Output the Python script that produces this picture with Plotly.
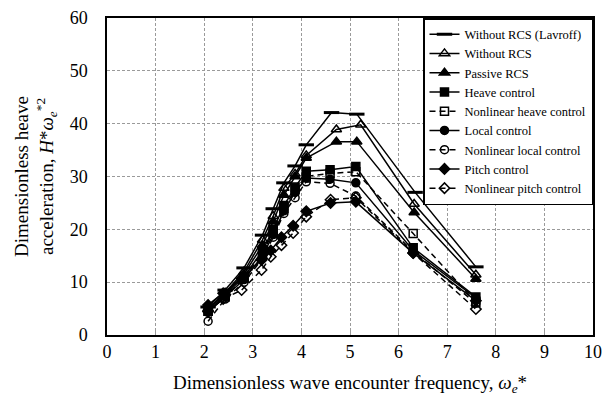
import plotly.graph_objects as go

# ---- data ----
names = ["Without RCS (Lavroff)", "Without RCS", "Passive RCS", "Heave control",
         "Nonlinear heave control", "Local control", "Nonlinear local control",
         "Pitch control", "Nonlinear pitch control"]

x_lavroff = [2.08, 2.43, 2.82, 3.20, 3.42, 3.64, 3.87, 4.10, 4.62, 5.14, 6.34, 7.59]
y_lavroff = [5.3, 8.5, 12.7, 18.9, 23.9, 28.8, 32.0, 36.0, 42.1, 41.8, 27.0, 12.9]

x_norcs = [2.08, 2.43, 2.82, 3.20, 3.42, 3.64, 3.87, 4.10, 4.72, 5.22, 6.32, 7.59]
y_norcs = [5.0, 8.0, 12.0, 18.0, 22.5, 27.8, 30.5, 34.0, 38.9, 39.8, 24.8, 11.4]

x_passive = [2.08, 2.43, 2.82, 3.20, 3.42, 3.64, 3.87, 4.10, 4.72, 5.14, 6.32, 7.59]
y_passive = [4.8, 7.8, 11.5, 17.0, 21.5, 26.5, 30.0, 33.5, 36.6, 36.6, 23.2, 10.6]

x_heave = [2.08, 2.43, 2.82, 3.20, 3.42, 3.64, 3.87, 4.10, 4.59, 5.12, 6.30, 7.59]
y_heave = [4.5, 7.5, 11.0, 16.0, 20.0, 24.5, 28.0, 31.0, 31.3, 31.9, 16.5, 7.2]

x_nlheave = [2.08, 2.43, 2.82, 3.20, 3.42, 3.64, 3.87, 4.10, 4.59, 5.12, 6.30, 7.59]
y_nlheave = [4.5, 7.2, 10.8, 15.5, 19.5, 24.0, 27.5, 30.0, 30.6, 30.9, 19.2, 6.2]

x_local = [2.08, 2.43, 2.82, 3.20, 3.42, 3.64, 3.87, 4.10, 4.59, 5.12, 6.30, 7.59]
y_local = [4.3, 7.3, 10.5, 15.0, 19.0, 23.5, 27.0, 29.7, 29.5, 28.8, 16.0, 7.0]

x_nllocal = [2.08, 2.43, 2.82, 3.20, 3.42, 3.64, 3.87, 4.10, 4.59, 5.12, 6.30, 7.59]
y_nllocal = [2.6, 6.8, 10.0, 14.5, 18.5, 23.0, 26.0, 29.0, 28.7, 26.3, 15.8, 6.0]

x_pitch = [2.08, 2.39, 2.77, 3.18, 3.37, 3.59, 3.83, 4.10, 4.60, 5.12, 6.30, 7.59]
y_pitch = [5.7, 7.9, 10.7, 14.2, 16.0, 18.5, 20.7, 23.4, 25.0, 25.2, 15.5, 6.5]

x_nlpitch = [2.08, 2.39, 2.77, 3.18, 3.37, 3.59, 3.83, 4.10, 4.60, 5.12, 6.30, 7.59]
y_nlpitch = [4.5, 6.8, 8.5, 12.3, 14.8, 17.0, 19.3, 22.4, 25.6, 26.0, 15.5, 4.9]

x_ticks = list(range(0, 11))
y_ticks = list(range(0, 61, 10))

series = [
    (x_lavroff, y_lavroff, "line-ew-open", "solid", 11),
    (x_norcs, y_norcs, "triangle-up-open", "solid", 9),
    (x_passive, y_passive, "triangle-up", "solid", 9),
    (x_heave, y_heave, "square", "solid", 8),
    (x_nlheave, y_nlheave, "square-open", "6px,4px", 8),
    (x_local, y_local, "circle", "solid", 8),
    (x_nllocal, y_nllocal, "circle-open", "6px,4px", 8),
    (x_pitch, y_pitch, "diamond", "solid", 8),
    (x_nlpitch, y_nlpitch, "diamond-open", "6px,4px", 8),
]

fig = go.Figure()
for name, (xs, ys, sym, dash, size) in zip(names, series):
    fig.add_trace(go.Scatter(
        x=xs, y=ys, name=name, mode="lines+markers",
        line=dict(color="black", width=1.5, dash=dash),
        marker=dict(symbol=sym, size=size, color="black",
                    line=dict(color="black", width=3 if sym == "line-ew-open" else 1.5)),
    ))

font_family = "Liberation Serif, Times New Roman, serif"
fig.update_layout(
    width=606, height=405,
    margin=dict(l=107, r=13, t=18, b=70, autoexpand=False),
    paper_bgcolor="white", plot_bgcolor="white",
    font=dict(family=font_family, size=18, color="black"),
    showlegend=True,
    legend=dict(x=1, y=1, xanchor="right", yanchor="top",
                bgcolor="white", bordercolor="black", borderwidth=1.5,
                font=dict(family=font_family, size=12.5, color="black"),
                tracegroupgap=0, itemwidth=30),
    xaxis=dict(range=[0, 10], tickvals=x_ticks, ticktext=[str(v) for v in x_ticks],
               showgrid=True, gridcolor="#9a9a9a", gridwidth=1, griddash="3px,2px",
               showline=True, linecolor="black", linewidth=1.5, mirror=True,
               ticks="inside", ticklen=4, tickcolor="#9a9a9a",
               zeroline=False, automargin=False,
               title=dict(text="Dimensionless wave encounter frequency, <i>ω</i><sub><i>e</i></sub>*",
                          font=dict(size=19), standoff=14)),
    yaxis=dict(range=[0, 60], tickvals=y_ticks, ticktext=[str(v) for v in y_ticks],
               showgrid=True, gridcolor="#9a9a9a", gridwidth=1, griddash="3px,2px",
               showline=True, linecolor="black", linewidth=1.5, mirror=True,
               ticks="", zeroline=False, ticklabelstandoff=14, automargin=False,
               title=dict(text="Dimensionless heave<br>acceleration, <i>H</i>*<i>ω</i><sub><i>e</i></sub><sup>*2</sup>",
                          font=dict(size=19), standoff=11)),
)

fig.write_html("out.html")
